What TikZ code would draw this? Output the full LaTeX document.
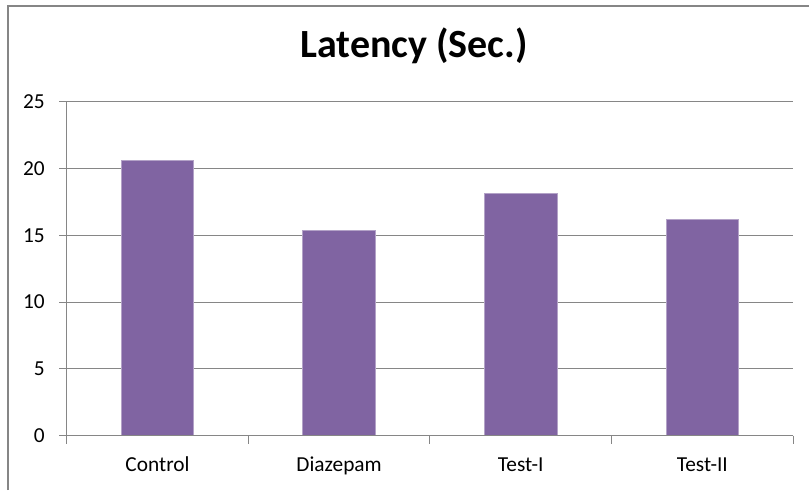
\documentclass[tikz,border=0pt]{standalone}
\usepackage{fontspec}
\setmainfont{Carlito}
\definecolor{barfill}{HTML}{8064A2}
\definecolor{baredge}{HTML}{B3A2C7}
\definecolor{gridgray}{HTML}{868686}

\begin{document}
\begin{tikzpicture}[x=0.75pt,y=0.75pt,
    gridline/.style={draw=gridgray,line width=0.8pt},
    bar/.style={fill=barfill,draw=baredge,line width=0.6pt},
    ticklabel/.style={font=\fontsize{16}{18}\selectfont,text=black,inner sep=0pt},
    catlabel/.style={font=\fontsize{16}{18}\selectfont,text=black,anchor=base}]

\useasboundingbox (0,0) rectangle (809,490);

% chart frame, only top and left edges show
\draw[gridgray,line width=1.6pt] (8,0) -- (8,484) -- (809,484);

\node[font=\bfseries\fontsize{30}{34}\selectfont,anchor=base] (title) at (414,432) {Latency (Sec.)};

% plot area: one x unit per category, one y unit per second
\begin{scope}[shift={(66.7,54.3)},x=136.2pt,y=10.02pt]
  \foreach \v in {5,10,...,25}
    \draw[gridline] (0,\v) -- (4,\v);
  \foreach \v in {0,5,...,25}{
    \draw[gridline] (-0.042,\v) -- (0,\v);
    \node[ticklabel,anchor=east] (tick\v) at (-0.12,\v) {\v};
  }
  \draw[gridline] (0,0) -- (0,25);
  \foreach \x in {0,...,4}
    \draw[gridline] (\x,0) -- (\x,-0.6);

  \foreach \name/\val [count=\i] in {Control/20.6,Diazepam/15.35,Test-I/18.15,Test-II/16.2}{
    \draw[bar] (\i-0.7,0) rectangle (\i-0.3,\val);
    \node[catlabel] (cat\i) at (\i-0.5,-2.7) {\name};
  }
  \draw[gridline] (0,0) -- (4,0);
\end{scope}
\end{tikzpicture}
\end{document}
